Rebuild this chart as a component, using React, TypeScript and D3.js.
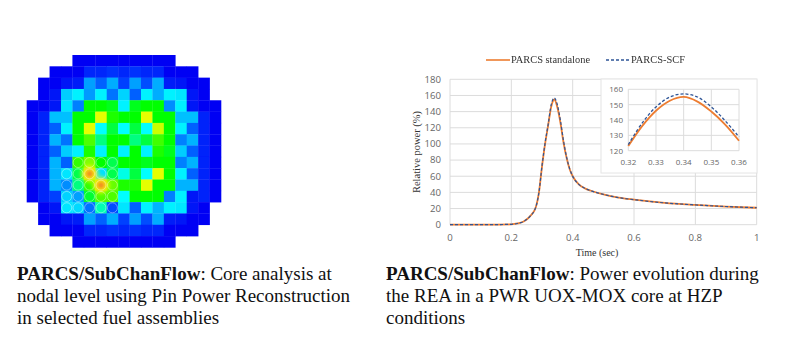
import React from "react";
import * as d3 from "d3";

// ---------- data ----------
const _ = null;
const coreRows: (number | null)[][] = [
  [_,_,_,_,0,0,0,0,0,0,0,0,0,_,_,_,_],
  [_,_,0,0,0,6,6,8,6,8,6,6,0,0,0,_,_],
  [_,0,0,3,4,25,15,27,10,25,12,27,4,3,0,0,_],
  [_,0,3,32,38,24,38,18,33,15,38,27,38,36,3,0,_],
  [0,0,3,36,20,60,60,58,38,58,60,60,22,38,3,0,0],
  [0,5,30,30,60,60,78,62,60,60,78,60,60,30,30,5,0],
  [0,5,15,38,60,78,40,55,40,55,40,76,60,38,15,5,0],
  [0,5,28,18,60,66,50,60,60,50,55,65,60,20,28,5,0],
  [0,5,15,32,38,62,38,60,38,60,38,62,58,32,15,5,0],
  [0,5,28,15,64,70,60,54,60,60,58,60,60,20,28,5,0],
  [0,5,28,36,54,72,35,54,42,55,40,78,60,38,15,5,0],
  [0,5,28,22,50,64,72,68,62,62,78,60,60,28,28,5,0],
  [0,5,10,33,25,56,66,66,40,60,60,60,20,38,3,5,0],
  [_,0,3,36,34,18,46,12,36,15,38,28,38,36,3,0,_],
  [_,0,0,3,4,25,15,27,10,25,12,27,4,3,0,0,_],
  [_,_,0,0,0,6,6,8,6,8,6,6,0,0,0,_,_],
  [_,_,_,_,0,0,0,0,0,0,0,0,0,_,_,_,_],
];
const pinRows = [9, 10, 11, 12, 13];
const pinCols: number[][] = [[4,5,6,7],[3,4,5,6,7],[3,4,5,6,7],[3,4,5,6,7],[3,4,5,6,7]];
const hotRows = [10, 11];
const hotCols = [5, 6];

const timeValues = [0,0.1,0.2,0.22,0.24,0.26,0.28,0.29,0.3,0.31,0.32,0.33,0.34,0.35,0.36,0.37,0.38,0.39,0.4,0.42,0.44,0.46,0.5,0.55,0.6,0.7,0.8,0.9,1];
const standalone = [0,0,0.5,1.5,4,10,22,40,72,100,123,146,155,145.5,126.5,102,83,69,60,50,45,42,37.5,33.5,31,27,24.5,22.5,21];
const parcsScf = [0,0,0.5,1.5,4,10,22,40,73,101,124,148.5,157,148.5,129,104,84,69.5,60,50,45,42,37.5,33.5,31,27,24.5,22.5,21];

const insetTime = [0.32,0.325,0.33,0.335,0.34,0.345,0.35,0.355,0.36];
const insetStandalone = [123,136,146,152.5,155,152,145.5,137,126.5];
const insetScf = [124,138,148.5,155,157,155,148.5,139.5,129];

const xTicks = [0,0.2,0.4,0.6,0.8,1];
const yTicks = [0,20,40,60,80,100,120,140,160,180];
const insetXTicks = [0.32,0.33,0.34,0.35,0.36];
const insetYTicks = [120,130,140,150,160];

const legendLabels = ["PARCS standalone", "PARCS-SCF"];
const leftCaption = [": Core analysis at", "nodal level using Pin Power Reconstruction", "in selected fuel assemblies"];
const rightCaption = [": Power evolution during", "the REA in a PWR UOX-MOX core at HZP", "conditions"];
const captionBold = "PARCS/SubChanFlow";

// ---------- drawing ----------
const ORANGE = "#ED7D31";
const NAVY = "#2F5597";
const GRID = "#dcdcdc";
const TICK = "#666666";
const SANS = "'Open Sans', 'Noto Sans', sans-serif";
const SERIF = "'Liberation Serif', serif";

const color = d3.scaleLinear<string>()
  .domain([0, 10, 20, 30, 40, 50, 60, 70, 80, 90, 100])
  .range(["#0000f4", "#0040ff", "#0080ff", "#00c0ff", "#00ffff", "#00ff80", "#00ff00", "#80ff00", "#ffff00", "#f08020", "#ff0000"]);

const gx = d3.scaleBand<number>().domain(d3.range(17)).range([26.7, 221]);
const gy = d3.scaleBand<number>().domain(d3.range(17)).range([55, 247.4]);

const xMain = d3.scaleLinear().domain([0, 1]).range([450, 756.7]);
const yMain = d3.scaleLinear().domain([0, 180]).range([224.7, 79.3]);
const xIn = d3.scaleLinear().domain([0.32, 0.36]).range([628.3, 739]);
const yIn = d3.scaleLinear().domain([120, 160]).range([150.7, 89.3]);

const mainLine = d3.line<number>().x((_d, i) => xMain(timeValues[i])).y(d => yMain(d)).curve(d3.curveMonotoneX);
const insetLine = d3.line<number>().x((_d, i) => xIn(insetTime[i])).y(d => yIn(d)).curve(d3.curveCatmullRom);

function Caption({ x, lines }: { x: number; lines: string[] }) {
  return (
    <g fontFamily={SERIF} fontSize={19} fill="#111">
      {lines.map((l, i) => (
        <text key={i} x={x} y={280 + i * 22}>
          {i === 0 && <tspan fontWeight="bold">{captionBold}</tspan>}
          {l}
        </text>
      ))}
    </g>
  );
}

export default function App() {
  return (
    <svg width={788} height={353} style={{ position: "absolute", left: 0, top: 0, background: "#fff" }}>
      <defs>
        <filter id="soft" x="-5%" y="-5%" width="110%" height="110%"><feGaussianBlur stdDeviation="0.6" /></filter>
        <filter id="soft2" x="-5%" y="-5%" width="110%" height="110%"><feGaussianBlur stdDeviation="0.35" /></filter>
        <filter id="glow" x="-100%" y="-100%" width="300%" height="300%"><feGaussianBlur stdDeviation="2" /></filter>
      </defs>

      {/* core map */}
      <g filter="url(#soft)">
        {coreRows.map((row, r) => row.map((v, c) => v === null ? null : (
          <rect key={`${r}-${c}`} x={gx(c)} y={gy(r)} width={gx.bandwidth() + 0.3} height={gy.bandwidth() + 0.3} fill={color(v)} />
        )))}
      </g>
      {hotRows.map((r, i) => (
        <g key={r} filter="url(#glow)">
          <circle cx={gx(hotCols[i])! + gx.bandwidth() / 2} cy={gy(r)! + gy.bandwidth() / 2} r={8} fill={color(80)} />
          <circle cx={gx(hotCols[i])! + gx.bandwidth() / 2} cy={gy(r)! + gy.bandwidth() / 2} r={4.5} fill={color(90)} />
        </g>
      ))}
      <g filter="url(#soft)">
        {pinRows.map((r, i) => pinCols[i].map(c => (
          <circle key={`p${r}-${c}`} cx={gx(c)! + gx.bandwidth() / 2} cy={gy(r)! + gy.bandwidth() / 2} r={5}
            fill="none" stroke="#fff" strokeOpacity={0.4} strokeWidth={1} />
        )))}
      </g>

      {/* main chart */}
      <g filter="url(#soft2)">
        {xTicks.map(t => <line key={t} x1={xMain(t)} x2={xMain(t)} y1={yMain(180)} y2={yMain(0)} stroke={GRID} strokeWidth={1} />)}
        {yTicks.map(t => <line key={t} x1={xMain(0)} x2={xMain(1)} y1={yMain(t)} y2={yMain(t)} stroke={GRID} strokeWidth={1} />)}
        <path d={mainLine(standalone)!} fill="none" stroke={ORANGE} strokeWidth={1.8} />
        <path d={mainLine(parcsScf)!} fill="none" stroke={NAVY} strokeWidth={1.2} strokeDasharray="3 2" />
      </g>
      <g fontFamily={SANS} fontSize={9.6} fill={TICK}>
        {xTicks.map(t => <text key={t} x={xMain(t)} y={241} textAnchor="middle">{t}</text>)}
        {yTicks.map(t => <text key={t} x={441} y={yMain(t) + 3.4} textAnchor="end">{t}</text>)}
      </g>
      <text x={597} y={256} textAnchor="middle" fontFamily={SERIF} fontSize={10} fill="#333">Time (sec)</text>
      <text transform="translate(420,152) rotate(-90)" textAnchor="middle" fontFamily={SERIF} fontSize={10.5} fill="#333">Relative power (%)</text>

      {/* legend */}
      <g fontFamily={SERIF} fontSize={10.4} fill="#333" filter="url(#soft2)">
        <line x1={486} x2={510} y1={60} y2={60} stroke={ORANGE} strokeWidth={1.6} />
        <text x={511} y={63}>{legendLabels[0]}</text>
        <line x1={606} x2={630} y1={60} y2={60} stroke={NAVY} strokeWidth={1.3} strokeDasharray="3 2" />
        <text x={631} y={63}>{legendLabels[1]}</text>
      </g>

      {/* inset */}
      <g filter="url(#soft2)">
        <rect x={601} y={79} width={156} height={94} fill="#fff" stroke="#e4e4e4" strokeWidth={1} />
        {insetXTicks.map(t => <line key={t} x1={xIn(t)} x2={xIn(t)} y1={yIn(160)} y2={yIn(120)} stroke={GRID} />)}
        {insetYTicks.map(t => <line key={t} x1={xIn(0.32)} x2={xIn(0.36)} y1={yIn(t)} y2={yIn(t)} stroke={GRID} />)}
        <path d={insetLine(insetStandalone)!} fill="none" stroke={ORANGE} strokeWidth={1.8} />
        <path d={insetLine(insetScf)!} fill="none" stroke={NAVY} strokeWidth={1.3} strokeDasharray="3 2" />
      </g>
      <g fontFamily={SANS} fontSize={8} fill={TICK}>
        {insetXTicks.map(t => <text key={t} x={xIn(t)} y={165} textAnchor="middle">{t.toFixed(2)}</text>)}
        {insetYTicks.map(t => <text key={t} x={623} y={yIn(t) + 3} textAnchor="end">{t}</text>)}
      </g>

      <Caption x={17} lines={leftCaption} />
      <Caption x={386} lines={rightCaption} />
    </svg>
  );
}
